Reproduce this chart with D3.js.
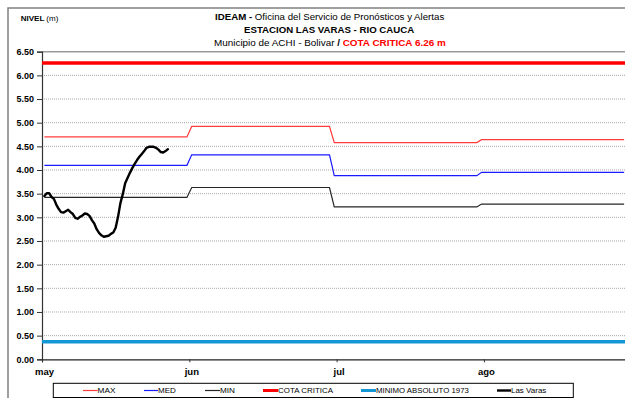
<!DOCTYPE html>
<html>
<head>
<meta charset="utf-8">
<script src="https://cdn.jsdelivr.net/npm/d3@7"></script>
<style>
  html, body { margin: 0; padding: 0; background: #fff; }
  svg { display: block; font-family: "Liberation Sans", Arial, sans-serif; }
</style>
</head>
<body>
<svg id="chart" width="625" height="398"></svg>
<script>
// Month axis: labels every 31 days from 1 May
const monthLabels = ["may", "jun", "jul", "ago"];
const tickDays = [0, 31, 62, 93];

// Monthly reference levels (m); month start day and length
const monthStart = [0, 31, 61, 92];
const monthLength = [31, 30, 31, 31];
const maxLevels = [4.70, 4.92, 4.58, 4.64];
const medLevels = [4.10, 4.32, 3.88, 3.95];
const minLevels = [3.42, 3.63, 3.22, 3.28];

const cotaCritica = 6.26;
const minimoAbsoluto = 0.37;

// Observed stage at Las Varas, readings every 12 h from 1 May
const lasVarasStep = 0.5;
const lasVaras = [
  3.45, 3.51, 3.51, 3.43, 3.39, 3.27, 3.18, 3.11, 3.10, 3.13,
  3.16, 3.11, 3.07, 2.99, 2.97, 3.01, 3.04, 3.08, 3.07, 3.03,
  2.94, 2.87, 2.75, 2.67, 2.62, 2.59, 2.60, 2.61, 2.65, 2.68,
  2.78, 3.01, 3.30, 3.49, 3.72, 3.83, 3.94, 4.04, 4.13, 4.21,
  4.28, 4.34, 4.40, 4.47, 4.49, 4.49, 4.49, 4.47, 4.43, 4.38,
  4.37, 4.40, 4.44
];

const yTicks = [0, 0.5, 1, 1.5, 2, 2.5, 3, 3.5, 4, 4.5, 5, 5.5, 6, 6.5];

const svg = d3.select("#chart");

const x = d3.scaleLinear().domain([0, 123]).range([42, 626.5]);
const y = d3.scaleLinear().domain([0, 6.5]).range([359.3, 51.7]);

// Fit a text element horizontally between x0 and x1
function fitText(sel, x0, x1, baseline) {
  const w = sel.node().getBBox().width;
  const k = (x1 - x0) / w;
  sel.attr("x", 0).attr("y", 0)
     .attr("transform", `translate(${x0},${baseline}) scale(${k},1)`);
}

// Outer chart frame
svg.append("rect")
  .attr("x", 8).attr("y", 8).attr("width", 640).attr("height", 420)
  .attr("fill", "none").attr("stroke", "#808080").attr("stroke-width", 1.5);

// Gridlines
svg.append("g").selectAll("line")
  .data(yTicks.filter(v => v > 0 && v < 6.5))
  .join("line")
  .attr("x1", x(0)).attr("x2", x(123))
  .attr("y1", d => y(d)).attr("y2", d => y(d))
  .attr("stroke", "#a8a8a8").attr("stroke-width", 1)
  .attr("stroke-dasharray", "1,1");

// Plot top border
svg.append("line")
  .attr("x1", x(0)).attr("x2", x(123))
  .attr("y1", y(6.5)).attr("y2", y(6.5))
  .attr("stroke", "#9a9a9a").attr("stroke-width", 1.5);

// Y axis
const yAxis = d3.axisLeft(y).tickValues(yTicks).tickSize(5).tickPadding(3)
  .tickFormat(d3.format(".2f"));
const gy = svg.append("g").attr("transform", `translate(${x(0)},0)`).call(yAxis);
gy.select(".domain").attr("stroke", "#333").attr("stroke-width", 1.2);
gy.selectAll(".tick line").attr("stroke", "#333");
gy.selectAll(".tick text").attr("font-size", 9).attr("font-weight", "bold")
  .attr("fill", "#000").attr("font-family", "Liberation Sans, Arial, sans-serif");

// X axis
const xAxis = d3.axisBottom(x).tickValues(tickDays).tickSize(3).tickPadding(6)
  .tickFormat((d, i) => monthLabels[i]);
const gx = svg.append("g").attr("transform", `translate(0,${y(0)})`).call(xAxis);
gx.select(".domain").attr("stroke", "#222").attr("stroke-width", 1.2);
gx.selectAll(".tick line").attr("stroke", "#333");
gx.selectAll(".tick text").attr("font-size", 9.5).attr("font-weight", "bold")
  .attr("fill", "#000").attr("font-family", "Liberation Sans, Arial, sans-serif")
  .attr("dx", 2);

// Step lines for monthly levels
function stepPoints(levels) {
  const pts = [];
  levels.forEach((v, i) => {
    pts.push([monthStart[i] + 0.5, v]);
    pts.push([monthStart[i] + monthLength[i] - 0.5, v]);
  });
  return pts;
}
const line = d3.line().x(d => x(d[0])).y(d => y(d[1]));

const levelSeries = [
  { levels: maxLevels, color: "#ff3c3c" },
  { levels: medLevels, color: "#1a1aff" },
  { levels: minLevels, color: "#262626" }
];
svg.append("g").selectAll("path")
  .data(levelSeries)
  .join("path")
  .attr("d", d => line(stepPoints(d.levels)))
  .attr("fill", "none").attr("stroke", d => d.color).attr("stroke-width", 1.2);

// Critical level and historic minimum
svg.append("line")
  .attr("x1", x(0)).attr("x2", x(123))
  .attr("y1", y(cotaCritica)).attr("y2", y(cotaCritica))
  .attr("stroke", "#ff0000").attr("stroke-width", 3.5);
svg.append("line")
  .attr("x1", x(0)).attr("x2", x(123))
  .attr("y1", y(minimoAbsoluto)).attr("y2", y(minimoAbsoluto))
  .attr("stroke", "#1497d4").attr("stroke-width", 3.5);

// Observed series
svg.append("path")
  .datum(lasVaras.map((v, i) => [i * lasVarasStep + 0.5, v]))
  .attr("d", line)
  .attr("fill", "none").attr("stroke", "#000").attr("stroke-width", 2.4)
  .attr("stroke-linejoin", "round").attr("stroke-linecap", "round");

// Header texts
const t1 = svg.append("text").attr("font-size", 9).attr("fill", "#000");
t1.append("tspan").attr("font-weight", "bold").text("IDEAM - ");
t1.append("tspan").text("Oficina del Servicio de Pronósticos y Alertas");
fitText(t1, 215, 445, 20);

const t2 = svg.append("text").attr("font-size", 9).attr("font-weight", "bold")
  .attr("fill", "#000").text("ESTACION LAS VARAS - RIO CAUCA");
fitText(t2, 244, 415, 32.5);

const t3 = svg.append("text").attr("font-size", 9).attr("fill", "#000");
t3.append("tspan").text("Municipio de ACHI - Bolivar ");
t3.append("tspan").attr("font-weight", "bold").text(" /  ");
t3.append("tspan").attr("font-weight", "bold").attr("fill", "#ff0000").text("COTA CRITICA 6.26 m");
fitText(t3, 214, 446, 45.5);

const nv = svg.append("text").attr("font-size", 7.5).attr("fill", "#000");
nv.append("tspan").attr("font-weight", "bold").text("NIVEL ");
nv.append("tspan").text("(m)");
fitText(nv, 20.7, 59, 21);

// Legend
svg.append("rect")
  .attr("x", 53.3).attr("y", 383.3).attr("width", 520).attr("height", 14.2)
  .attr("fill", "#fff").attr("stroke", "#000").attr("stroke-width", 1);

const legendItems = [
  { label: "MAX", color: "#ff3c3c", w: 1.2, x0: 83, tx: 97.6, tx1: 115.5 },
  { label: "MED", color: "#1a1aff", w: 1.2, x0: 144, tx: 158, tx1: 176.5 },
  { label: "MIN", color: "#262626", w: 1.2, x0: 205, tx: 220, tx1: 235 },
  { label: "COTA CRITICA", color: "#ff0000", w: 3, x0: 263, tx: 278, tx1: 333 },
  { label: "MINIMO ABSOLUTO 1973", color: "#1497d4", w: 3, x0: 361, tx: 376, tx1: 469 },
  { label: "Las Varas", color: "#000", w: 2.4, x0: 497, tx: 511, tx1: 546.6 }
];
legendItems.forEach(it => {
  svg.append("line")
    .attr("x1", it.x0).attr("x2", it.tx).attr("y1", 390.5).attr("y2", 390.5)
    .attr("stroke", it.color).attr("stroke-width", it.w);
  const t = svg.append("text").attr("font-size", 7.5).attr("fill", "#000").text(it.label);
  fitText(t, it.tx, it.tx1, 393.3);
});
</script>
</body>
</html>
